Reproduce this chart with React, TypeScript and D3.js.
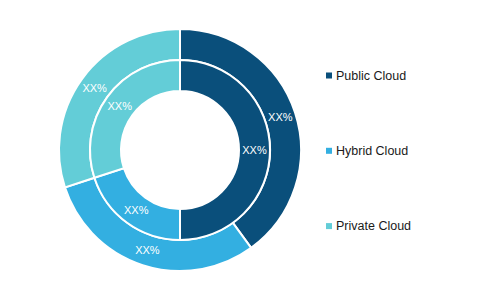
import React, { useEffect, useRef } from "react";
import * as d3 from "d3";

const categories = ["Public Cloud", "Hybrid Cloud", "Private Cloud"];
const outerValues = [40, 30, 30];
const innerValues = [50, 20, 30];
const labels = ["XX%", "XX%", "XX%"];
const colors = ["#0a4f7b", "#33afe1", "#63cdd7"];

export default function App() {
  const ref = useRef<SVGSVGElement>(null);
  useEffect(() => {
    const svg = d3.select(ref.current);
    svg.selectAll("*").remove();
    const cx = 180, cy = 150;
    const g = svg.append("g").attr("transform", `translate(${cx},${cy})`);
    const pie = d3.pie<number>().sort(null).value((d) => d);
    const rings = [
      { values: outerValues, inner: 90, outer: 121 },
      { values: innerValues, inner: 59, outer: 90 },
    ];
    rings.forEach((r) => {
      const arc = d3.arc<d3.PieArcDatum<number>>().innerRadius(r.inner).outerRadius(r.outer);
      const labelArc = d3.arc<d3.PieArcDatum<number>>().innerRadius(r.inner).outerRadius(r.outer);
      const arcs = pie(r.values);
      g.selectAll(null)
        .data(arcs)
        .enter()
        .append("path")
        .attr("d", arc)
        .attr("fill", (_d, i) => colors[i])
        .attr("stroke", "#ffffff")
        .attr("stroke-width", 2);
      g.selectAll(null)
        .data(arcs)
        .enter()
        .append("text")
        .attr("transform", (d) => `translate(${labelArc.centroid(d)})`)
        .attr("text-anchor", "middle")
        .attr("dominant-baseline", "central")
        .attr("fill", "#ffffff")
        .attr("font-family", "Liberation Sans, Arial, sans-serif")
        .attr("font-size", 11)
        .text((_d, i) => labels[i]);
    });
    const legend = svg.append("g");
    categories.forEach((c, i) => {
      const y = 75.5 + i * 75.3;
      legend
        .append("rect")
        .attr("x", 326)
        .attr("y", y - 3)
        .attr("width", 6)
        .attr("height", 6)
        .attr("fill", colors[i]);
      legend
        .append("text")
        .attr("x", 336)
        .attr("y", y)
        .attr("dominant-baseline", "central")
        .attr("fill", "#1a1a1a")
        .attr("font-family", "Liberation Sans, Arial, sans-serif")
        .attr("font-size", 12.5)
        .text(c);
    });
  }, []);
  return (
    <svg
      ref={ref}
      width={500}
      height={299}
      style={{ position: "absolute", left: 0, top: 0, background: "#ffffff" }}
    />
  );
}
